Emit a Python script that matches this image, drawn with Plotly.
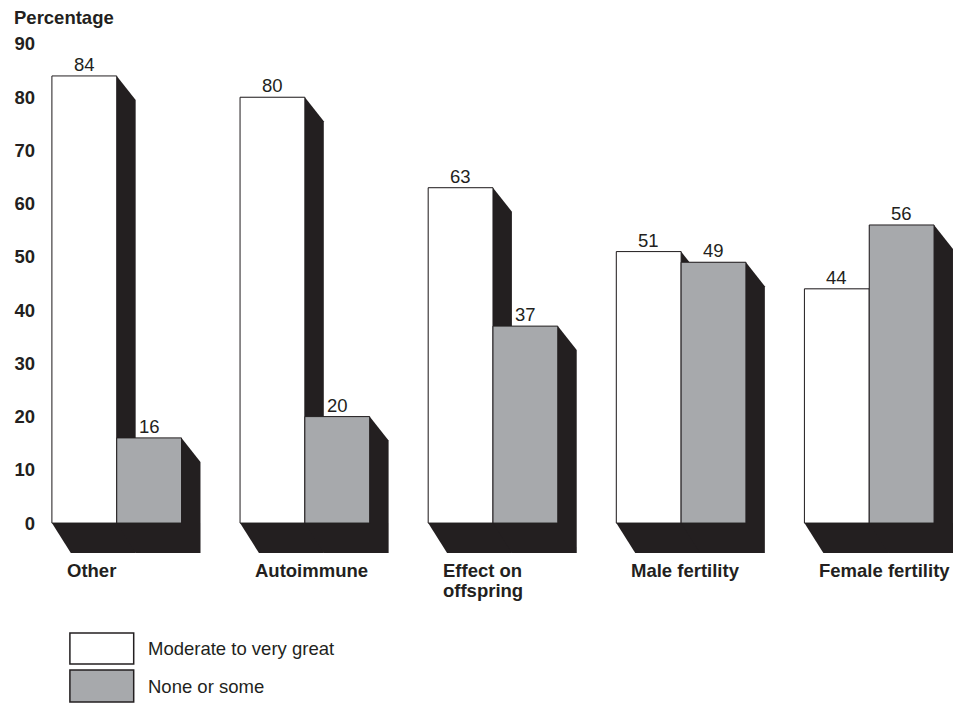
import plotly.graph_objects as go

# ---- data ----
categories = ["Other", "Autoimmune", "Effect on offspring", "Male fertility", "Female fertility"]
category_labels = ["Other", "Autoimmune", "Effect on<br>offspring", "Male fertility", "Female fertility"]
moderate_to_very_great = [84, 80, 63, 51, 44]
none_or_some = [16, 20, 37, 49, 56]
series_names = ["Moderate to very great", "None or some"]
y_ticks = [0, 10, 20, 30, 40, 50, 60, 70, 80, 90]

# ---- style / layout constants (page pixel targets; page has an 8px body margin) ----
OFF = 8
W, H = 966 - OFF, 704 - OFF
PLOT_LEFT, PLOT_RIGHT, PLOT_TOP, PLOT_BOTTOM = 38, 960, 44, 555  # page px
L = PLOT_LEFT - OFF
T = PLOT_TOP - OFF
PW = PLOT_RIGHT - PLOT_LEFT
PH = PLOT_BOTTOM - PLOT_TOP
R = W - L - PW
B = H - T - PH
XR = [-0.4025, 4.4825]
YR = [-6.0, 90.0]
BARGAP = 0.311
FONT = "Liberation Sans, Arial, Helvetica, sans-serif"
INK = "#231f20"
GREY = "#a7a9ac"
FS = 18.5
LINE_GAP = 20  # px between wrapped category label lines

px_per_x = PW / (XR[1] - XR[0])
px_per_y = PH / (YR[1] - YR[0])


def ux(px):
    return px / px_per_x


def uy(px):
    return px / px_per_y


def paper_x(px):
    return (px - PLOT_LEFT) / PW


def paper_y(py):
    return (PLOT_BOTTOM - py) / PH


DX = ux(19)
DY_TOP = uy(24)
DY_BOT = uy(30)
bw = (1 - BARGAP) / 2

fig = go.Figure()
fills = ["white", GREY]
series = [moderate_to_very_great, none_or_some]
for name, vals, fill in zip(series_names, series, fills):
    fig.add_trace(go.Bar(
        x=categories, y=vals, name=name,
        marker=dict(color=fill, line=dict(color=INK, width=1)),
        showlegend=False, hoverinfo="skip",
    ))

shapes = []
annotations = []
# extruded shadows (below the bars) and value labels
for i, cat in enumerate(categories):
    for j, vals in enumerate(series):
        v = vals[i]
        left = i - bw + j * bw
        right = left + bw
        pts = [(left, v), (right, v), (right + DX, v - DY_TOP),
               (right + DX, -DY_BOT), (left + DX, -DY_BOT), (left, 0)]
        path = "M " + " L ".join(f"{x},{y}" for x, y in pts) + " Z"
        shapes.append(dict(type="path", path=path, xref="x", yref="y",
                           fillcolor=INK, line=dict(width=0), layer="below"))
        annotations.append(dict(
            x=(left + right) / 2, y=v, xref="x", yref="y", text=str(v),
            xanchor="center", yanchor="bottom", showarrow=False, yshift=-1,
            font=dict(family=FONT, size=FS, color=INK)))

# category labels (each wrapped line placed separately for tight spacing)
for i, lab in enumerate(category_labels):
    for k, line in enumerate(lab.split("<br>")):
        annotations.append(dict(
            x=i - bw, y=paper_y(559 + k * LINE_GAP), xref="x", yref="paper",
            text=f"<b>{line}</b>", xanchor="left", yanchor="top", align="left",
            showarrow=False, xshift=14, borderpad=0,
            font=dict(family=FONT, size=FS, color=INK)))

# y title
annotations.append(dict(
    x=paper_x(10), y=paper_y(18), xref="paper", yref="paper",
    text="<b>Percentage</b>", xanchor="left", yanchor="middle", borderpad=0,
    showarrow=False, font=dict(family=FONT, size=FS, color=INK)))

# legend
legend_rows = [(633, 664), (670, 702)]
for (top, bot), name, fill in zip(legend_rows, series_names, fills):
    shapes.append(dict(type="rect", xref="paper", yref="paper",
                       x0=paper_x(67), x1=paper_x(131),
                       y0=paper_y(bot), y1=paper_y(top),
                       fillcolor=fill, line=dict(color=INK, width=1.5)))
    annotations.append(dict(
        x=paper_x(144), y=paper_y((top + bot) / 2), xref="paper", yref="paper",
        text=name, xanchor="left", yanchor="middle", showarrow=False, borderpad=0,
        font=dict(family=FONT, size=FS, color=INK)))

fig.update_layout(
    width=W, height=H,
    margin=dict(l=L, r=R, t=T, b=B, pad=0),
    paper_bgcolor="white", plot_bgcolor="white",
    barmode="group", bargap=BARGAP, bargroupgap=0,
    shapes=shapes, annotations=annotations,
    font=dict(family=FONT, size=FS, color=INK),
    xaxis=dict(range=XR, showticklabels=False, showgrid=False,
               zeroline=False, showline=False, ticks=""),
    yaxis=dict(range=YR, tickvals=y_ticks, ticktext=[f"<b>{t}</b>" for t in y_ticks],
               showgrid=False, zeroline=False, showline=False, ticks="",
               ticklabelstandoff=5,
               tickfont=dict(family=FONT, size=FS, color=INK)),
)

fig.write_html("out.html")
